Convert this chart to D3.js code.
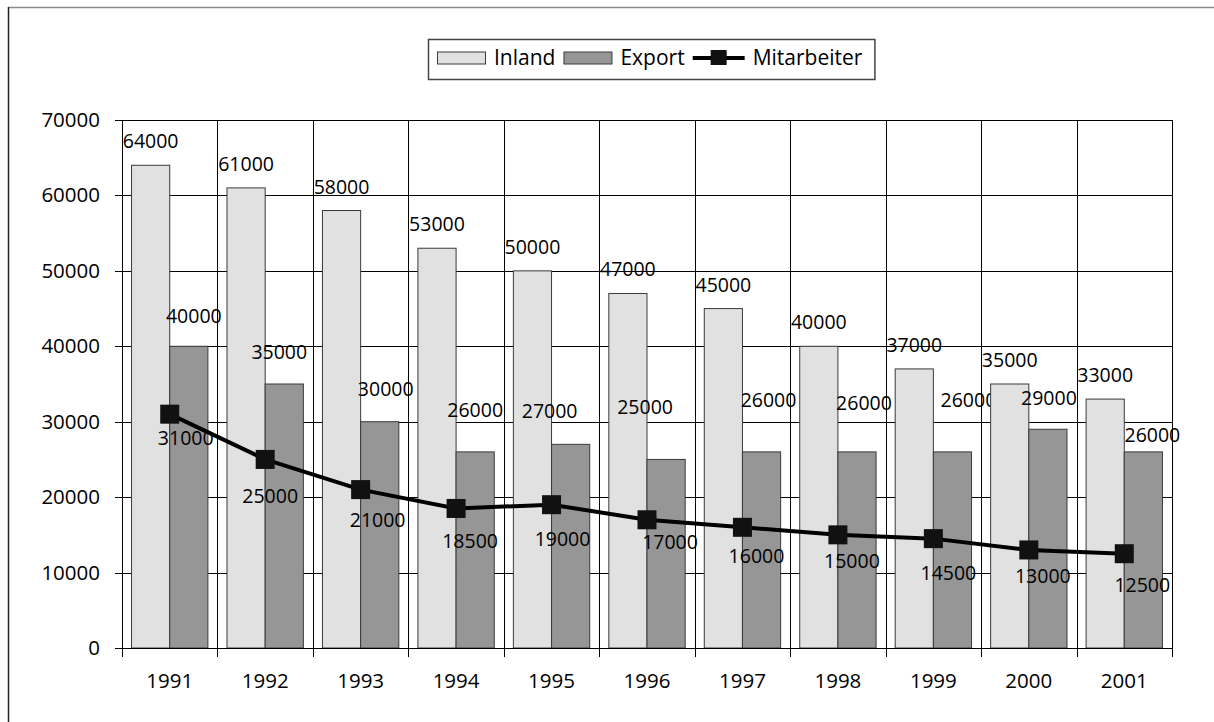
<!DOCTYPE html>
<html>
<head>
<meta charset="utf-8">
<script src="https://cdn.jsdelivr.net/npm/d3@7"></script>
<style>
  body { margin: 0; background: #fff; }
  svg { display: block; font-family: "Open Sans", "Noto Sans", sans-serif; font-weight: 500; }
</style>
</head>
<body>
<svg id="chart" width="1214" height="722"></svg>
<script>
var years = ["1991", "1992", "1993", "1994", "1995", "1996", "1997", "1998", "1999", "2000", "2001"];
var inland = [64000, 61000, 58000, 53000, 50000, 47000, 45000, 40000, 37000, 35000, 33000];
var exportVals = [40000, 35000, 30000, 26000, 27000, 25000, 26000, 26000, 26000, 29000, 26000];
var mitarbeiter = [31000, 25000, 21000, 18500, 19000, 17000, 16000, 15000, 14500, 13000, 12500];
var yTicks = [0, 10000, 20000, 30000, 40000, 50000, 60000, 70000];

// label nudges (px) as placed in the original chart
var exportLabelDx = [5, -5, 6, 0, -21, -21, 7, 7, 16, 1, 9];
var exportLabelDy = [23, 25, 26, 35, 26, 45, 45, 42, 45, 24, 10];
var lineLabelDx = [16, 5, 17, 14, 11, 23, 14, 14, 15, 14, 18];
var lineLabelDy = [31, 44, 37, 40, 41, 29, 36, 33, 41, 33, 38];

var svg = d3.select("#chart"),
    margin = {top: 120, left: 122, right: 42, bottom: 74},
    width = 1214 - margin.left - margin.right,
    height = 722 - margin.top - margin.bottom;

// outer frame (only top and left edges are in view)
svg.append("line").attr("x1", 8).attr("x2", 1214).attr("y1", 7.5).attr("y2", 7.5)
    .attr("stroke", "#8a8a8a").attr("stroke-width", 1.5);
svg.append("line").attr("x1", 8.5).attr("x2", 8.5).attr("y1", 7).attr("y2", 722)
    .attr("stroke", "#222").attr("stroke-width", 1.5);

var g = svg.append("g").attr("transform", "translate(" + margin.left + "," + margin.top + ")");

var x = d3.scaleBand().domain(years).range([0, width]).padding(0);
var xs = d3.scaleBand().domain(["Inland", "Export"])
    .range([x.bandwidth() * 0.1, x.bandwidth() * 0.9]).padding(0);
var y = d3.scaleLinear().domain([0, 70000]).range([height, 0]);

// horizontal grid
g.append("g").selectAll("line").data(yTicks).join("line")
    .attr("x1", 0).attr("x2", width)
    .attr("y1", function(d) { return Math.round(y(d)) + 0.5; })
    .attr("y2", function(d) { return Math.round(y(d)) + 0.5; })
    .attr("stroke", "#000").attr("stroke-width", 1);

// vertical grid at category boundaries, running past the axis as ticks
var bounds = years.map(function(d) { return x(d); }).concat([width]);
g.append("g").selectAll("line").data(bounds).join("line")
    .attr("x1", function(d) { return Math.round(d) + 0.5; })
    .attr("x2", function(d) { return Math.round(d) + 0.5; })
    .attr("y1", 0).attr("y2", height + 9)
    .attr("stroke", "#000").attr("stroke-width", 1);

// bars
var groups = g.append("g").selectAll("g").data(years).join("g")
    .attr("transform", function(d) { return "translate(" + x(d) + ",0)"; });

groups.append("rect")
    .attr("x", xs("Inland")).attr("width", xs.bandwidth())
    .attr("y", function(d, i) { return y(inland[i]); })
    .attr("height", function(d, i) { return height - y(inland[i]); })
    .attr("fill", "#e1e1e1").attr("stroke", "#3a3a3a").attr("stroke-width", 1);

groups.append("rect")
    .attr("x", xs("Export")).attr("width", xs.bandwidth())
    .attr("y", function(d, i) { return y(exportVals[i]); })
    .attr("height", function(d, i) { return height - y(exportVals[i]); })
    .attr("fill", "#969696").attr("stroke", "#3a3a3a").attr("stroke-width", 1);

// axes
g.append("line").attr("x1", 0.5).attr("x2", 0.5).attr("y1", 0).attr("y2", height + 9)
    .attr("stroke", "#000");
g.append("line").attr("x1", 0).attr("x2", width).attr("y1", height + 0.5).attr("y2", height + 0.5)
    .attr("stroke", "#000");
g.append("g").selectAll("line").data(yTicks).join("line")
    .attr("x1", -7).attr("x2", 0)
    .attr("y1", function(d) { return Math.round(y(d)) + 0.5; })
    .attr("y2", function(d) { return Math.round(y(d)) + 0.5; })
    .attr("stroke", "#000");
g.append("g").selectAll("text").data(yTicks).join("text")
    .attr("x", -22).attr("y", function(d) { return y(d); })
    .attr("dy", "0.34em").attr("text-anchor", "end")
    .attr("font-size", 20.5).attr("fill", "#000")
    .text(function(d) { return d; });
g.append("g").selectAll("text").data(years).join("text")
    .attr("x", function(d) { return x(d) + x.bandwidth() / 2; })
    .attr("y", height + 40)
    .attr("text-anchor", "middle").attr("font-size", 20.5).attr("fill", "#000")
    .text(function(d) { return d; });

// bar labels
groups.append("text")
    .attr("x", xs("Inland") + xs.bandwidth() / 2)
    .attr("y", function(d, i) { return y(inland[i]) - 17; })
    .attr("text-anchor", "middle").attr("font-size", 19.5)
    .text(function(d, i) { return inland[i]; });
groups.append("text")
    .attr("x", function(d, i) { return xs("Export") + xs.bandwidth() / 2 + exportLabelDx[i]; })
    .attr("y", function(d, i) { return y(exportVals[i]) - exportLabelDy[i]; })
    .attr("text-anchor", "middle").attr("font-size", 19.5)
    .text(function(d, i) { return exportVals[i]; });

// Mitarbeiter line
var line = d3.line()
    .x(function(d, i) { return x(years[i]) + x.bandwidth() / 2; })
    .y(function(d) { return y(d); });
g.append("path").datum(mitarbeiter)
    .attr("d", line).attr("fill", "none")
    .attr("stroke", "#000").attr("stroke-width", 4).attr("stroke-linejoin", "round");
g.append("g").selectAll("rect").data(mitarbeiter).join("rect")
    .attr("x", function(d, i) { return x(years[i]) + x.bandwidth() / 2 - 9.5; })
    .attr("y", function(d) { return y(d) - 9.5; })
    .attr("width", 19).attr("height", 19)
    .attr("fill", "#111");
g.append("g").selectAll("text").data(mitarbeiter).join("text")
    .attr("x", function(d, i) { return x(years[i]) + x.bandwidth() / 2 + lineLabelDx[i]; })
    .attr("y", function(d, i) { return y(d) + lineLabelDy[i]; })
    .attr("text-anchor", "middle").attr("font-size", 19.5)
    .text(function(d) { return d; });

// legend
var legend = svg.append("g");
var legBox = legend.append("rect")
    .attr("fill", "#fff").attr("stroke", "#444").attr("stroke-width", 1.5);
var lx = 437, ly = 58;
var items = [
  {name: "Inland", fill: "#e1e1e1"},
  {name: "Export", fill: "#969696"},
  {name: "Mitarbeiter", line: true}
];
items.forEach(function(it) {
  if (it.line) {
    legend.append("line").attr("x1", lx).attr("x2", lx + 52).attr("y1", ly).attr("y2", ly)
        .attr("stroke", "#000").attr("stroke-width", 4);
    legend.append("rect").attr("x", lx + 18).attr("y", ly - 8).attr("width", 16).attr("height", 15)
        .attr("fill", "#111");
    lx += 60;
  } else {
    legend.append("rect").attr("x", lx + 0.5).attr("y", ly - 6).attr("width", 48).attr("height", 12)
        .attr("fill", it.fill).attr("stroke", "#3a3a3a").attr("stroke-width", 1);
    lx += 57;
  }
  var t = legend.append("text").attr("x", lx).attr("y", ly).attr("dy", "0.35em")
      .attr("font-size", 21).text(it.name);
  lx += t.node().getComputedTextLength() + 8;
});
legBox.attr("x", 428.5).attr("y", 39.5).attr("width", lx - 428 + 4).attr("height", 40);
</script>
</body>
</html>
